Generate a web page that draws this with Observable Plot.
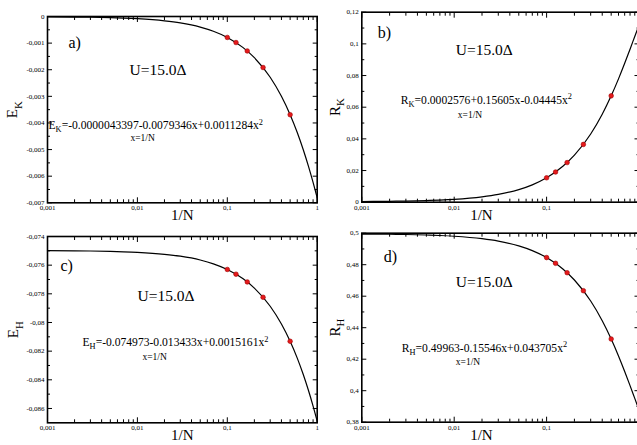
<!DOCTYPE html>
<html><head><meta charset="utf-8">
<script src="https://cdn.jsdelivr.net/npm/d3@7"></script>
<script src="https://cdn.jsdelivr.net/npm/@observablehq/plot@0.6"></script>
<style>
html,body{margin:0;padding:0;background:#fff;}
#chart{position:relative;width:637px;height:445px;overflow:hidden;background:#fff;}
#chart svg{position:absolute;}
#chart svg text{font-family:'Liberation Serif','Times New Roman',serif;}
</style></head><body><div id="chart"></div>
<script>
// ---- data ----
const invN = [0.1, 0.125, 0.1667, 0.25, 0.5];
const pointsEK = [-0.000787, -0.000978, -0.001295, -0.001917, -0.00369];
const pointsRK = [0.01542, 0.01907, 0.02503, 0.03649, 0.06717];
const pointsEH = [-0.07630, -0.07663, -0.07717, -0.07824, -0.08131];
const pointsRH = [0.48452, 0.48088, 0.47493, 0.46350, 0.43283];

const curveX  = [0.001,0.002,0.003,0.005,0.007,0.01,0.02,0.03,0.05,0.07,0.1,0.15,0.2,0.3,0.4,0.5,0.6,0.7,0.8,0.9,1];
const curveEK = [-0.0000123,-0.0000202,-0.0000281,-0.000044,-0.0000597,-0.0000835,-0.0001626,-0.0002413,-0.0003982,-0.0005542,-0.0007865,-0.0011691,-0.0015461,-0.0022831,-0.0029976,-0.0036895,-0.0043589,-0.0050056,-0.0056298,-0.0062314,-0.0068105];
const curveRK = [0.000414,0.00057,0.000725,0.001037,0.001348,0.001814,0.003361,0.004899,0.007949,0.010963,0.015418,0.022665,0.02969,0.043072,0.055566,0.06717,0.077886,0.087712,0.09665,0.104698,0.111858];
const curveEH = [-0.0749864,-0.0749999,-0.0750133,-0.0750402,-0.0750669,-0.0751071,-0.0752411,-0.0753746,-0.0756409,-0.0759059,-0.0763011,-0.0769539,-0.077599,-0.0788665,-0.0801036,-0.0813105,-0.082487,-0.0836332,-0.0847491,-0.0858347,-0.0868899];
const curveRH = [0.4994745,0.4993193,0.499164,0.4988538,0.4985439,0.4980798,0.4965383,0.4950055,0.4919663,0.488962,0.484521,0.4772944,0.4702862,0.4569255,0.4444388,0.4328263,0.4220878,0.4122235,0.4032332,0.395117,0.387875];

const xMajor = [0.001, 0.01, 0.1, 1];
const xMajorLabelledRight = [0.001, 0.01, 0.1];
const xMinor = [0.002,0.003,0.004,0.005,0.006,0.007,0.008,0.009,0.02,0.03,0.04,0.05,0.06,0.07,0.08,0.09,0.2,0.3,0.4,0.5,0.6,0.7,0.8,0.9];
const yMajorEK = [0,-0.001,-0.002,-0.003,-0.004,-0.005,-0.006,-0.007];
const yMinorEK = [-0.0005,-0.0015,-0.0025,-0.0035,-0.0045,-0.0055,-0.0065];
const yMajorRK = [0,0.02,0.04,0.06,0.08,0.1,0.12];
const yMinorRK = [0.01,0.03,0.05,0.07,0.09,0.11];
const yMajorEH = [-0.074,-0.076,-0.078,-0.08,-0.082,-0.084,-0.086];
const yMinorEH = [-0.075,-0.077,-0.079,-0.081,-0.083,-0.085];
const yMajorRH = [0.38,0.4,0.42,0.44,0.46,0.48,0.5];
const yMinorRH = [0.39,0.41,0.43,0.45,0.47,0.49];

const xLabel = "1/N";
const yLabels = ["E_{K}", "R_{K}", "E_{H}", "R_{H}"];
const panelTags = ["a)", "b)", "c)", "d)"];
const uLabel = "U=15.0Δ";
const formulas = [
  "E_{K}=-0.0000043397-0.0079346x+0.0011284x^{2}",
  "R_{K}=0.0002576+0.15605x-0.04445x^{2}",
  "E_{H}=-0.074973-0.013433x+0.0015161x^{2}",
  "R_{H}=0.49963-0.15546x+0.043705x^{2}"
];
const xDef = "x=1/N";

// ---- rendering ----
const SERIF = "'Liberation Serif','Times New Roman',serif";
const fmt = d => String(d).replace(".", ",");
const blank = () => "";

const panels = [
  {left:0,   top:0,   w:322, h:222, ml:47,   mr:5.3, mt:16,   mb:19.7, yDomain:[-0.007,0],     yMajor:yMajorEK, yMinor:yMinorEK, points:pointsEK, curve:curveEK, xLab: xMajor,
   tag:[21,26], u:[82,54], f:[1,109], xd:[83,121], xlab:0, ylab:-35},
  {left:318, top:0,   w:322, h:222, ml:43.3, mr:1.5, mt:11.7, mb:20.3, yDomain:[0,0.12],       yMajor:yMajorRK, yMinor:yMinorRK, points:pointsRK, curve:curveRK, xLab: xMajorLabelledRight,
   tag:[16,21], u:[94,38], f:[39,88], xd:[96,103], xlab:-19, ylab:-27},
  {left:0,   top:220, w:322, h:225, ml:47,   mr:5.3, mt:16,   mb:22.7, yDomain:[-0.087,-0.074], yMajor:yMajorEH, yMinor:yMinorEH, points:pointsEH, curve:curveEH, xLab: xMajor,
   tag:[13,29], u:[90,60], f:[35,106], xd:[95,120], xlab:0, ylab:-34},
  {left:318, top:220, w:322, h:225, ml:43.3, mr:1.5, mt:12.7, mb:23.3, yDomain:[0.38,0.5],     yMajor:yMajorRH, yMinor:yMinorRH, points:pointsRH, curve:curveRH, xLab: xMajorLabelledRight,
   tag:[22,24], u:[94,49], f:[40,115], xd:[94,129], xlab:-19, ylab:-27}
];

function label(str, opts) {
  return Plot.text([str], {text: d => d, fill: "#000", fontFamily: SERIF, ...opts});
}

function makePanel(p, i) {
  const pts = invN.map((x, k) => ({x, y: p.points[k]}));
  const crv = curveX.map((x, k) => ({x, y: p.curve[k]}));
  const MAJ = 5, MIN = 3;
  const tk = {label: null, tickFormat: blank, stroke: "#000", strokeWidth: 1};
  const svg = Plot.plot({
    width: p.w, height: p.h,
    marginLeft: p.ml, marginRight: p.mr, marginTop: p.mt, marginBottom: p.mb,
    style: {fontFamily: SERIF, background: "transparent", overflow: "visible", maxWidth: "none", color: "#000"},
    x: {type: "log", domain: [0.001, 1], label: null},
    y: {domain: p.yDomain, label: null},
    marks: [
      // tick labels
      Plot.axisX({anchor: "bottom", ticks: p.xLab, tickSize: 0, tickPadding: 2.5, tickFormat: fmt, fontSize: 7, fontFamily: SERIF, label: null, fill: "#000"}),
      Plot.axisY({anchor: "left", ticks: p.yMajor, tickSize: 0, tickPadding: 3, tickFormat: fmt, fontSize: 7, fontFamily: SERIF, label: null, fill: "#000"}),
      // inward ticks on all four sides (outward ticks shifted inside the frame)
      Plot.axisX({anchor: "bottom", ticks: xMajor, tickSize: MAJ, dy: -MAJ, ...tk}),
      Plot.axisX({anchor: "bottom", ticks: xMinor, tickSize: MIN, dy: -MIN, ...tk}),
      Plot.axisX({anchor: "top", ticks: xMajor, tickSize: MAJ, dy: MAJ, ...tk}),
      Plot.axisX({anchor: "top", ticks: xMinor, tickSize: MIN, dy: MIN, ...tk}),
      Plot.axisY({anchor: "left", ticks: p.yMajor, tickSize: MAJ, dx: MAJ, ...tk}),
      Plot.axisY({anchor: "left", ticks: p.yMinor, tickSize: MIN, dx: MIN, ...tk}),
      Plot.axisY({anchor: "right", ticks: p.yMajor, tickSize: MAJ, dx: -MAJ, ...tk}),
      Plot.axisY({anchor: "right", ticks: p.yMinor, tickSize: MIN, dx: -MIN, ...tk}),
      Plot.line(crv, {x: "x", y: "y", curve: "monotone-x", stroke: "#000", strokeWidth: 1.2}),
      Plot.dot(pts, {x: "x", y: "y", r: 2.3, fill: "#e41a1c", stroke: "#a00000", strokeWidth: 0.6}),
      Plot.frame({stroke: "#000", strokeWidth: 1.6}),
      label(panelTags[i], {frameAnchor: "top-left", textAnchor: "start", lineAnchor: "middle", dx: p.tag[0], dy: p.tag[1], fontSize: 16}),
      label(uLabel, {frameAnchor: "top-left", textAnchor: "start", lineAnchor: "middle", dx: p.u[0], dy: p.u[1], fontSize: 15.5}),
      label(formulas[i], {frameAnchor: "top-left", textAnchor: "start", lineAnchor: "middle", dx: p.f[0], dy: p.f[1], fontSize: 11.6}),
      label(xDef, {frameAnchor: "top-left", textAnchor: "start", lineAnchor: "middle", dx: p.xd[0], dy: p.xd[1], fontSize: 9.5}),
      label(xLabel, {frameAnchor: "bottom", textAnchor: "middle", lineAnchor: "bottom", dx: p.xlab, dy: 17.5, fontSize: 15}),
      label(yLabels[i], {frameAnchor: "left", textAnchor: "middle", lineAnchor: "middle", rotate: -90, dx: p.ylab, fontSize: 15})
    ]
  });
  svg.style.left = p.left + "px";
  svg.style.top = p.top + "px";
  return svg;
}

function enrich(svg) {
  const NS = "http://www.w3.org/2000/svg";
  svg.querySelectorAll("text").forEach(t => {
    const s = t.textContent;
    if (!/[_^]\{/.test(s)) return;
    const fs = parseFloat(getComputedStyle(t).fontSize) || 12;
    while (t.firstChild) t.removeChild(t.firstChild);
    const parts = s.split(/([_^]\{[^}]*\})/);
    let off = 0;
    for (const part of parts) {
      if (!part) continue;
      const ts = document.createElementNS(NS, "tspan");
      let target = 0, txt = part, small = false;
      if (/^[_^]\{/.test(part)) {
        small = true;
        target = part[0] === "_" ? 0.28 * fs : -0.4 * fs;
        txt = part.slice(2, -1);
      }
      ts.setAttribute("dy", target - off);
      off = target;
      if (small) ts.setAttribute("font-size", 0.72 * fs);
      ts.textContent = txt;
      t.appendChild(ts);
    }
  });
}

const chart = document.getElementById("chart");
panels.forEach((p, i) => {
  const svg = makePanel(p, i);
  chart.appendChild(svg);
  enrich(svg);
});
</script>
</body></html>
